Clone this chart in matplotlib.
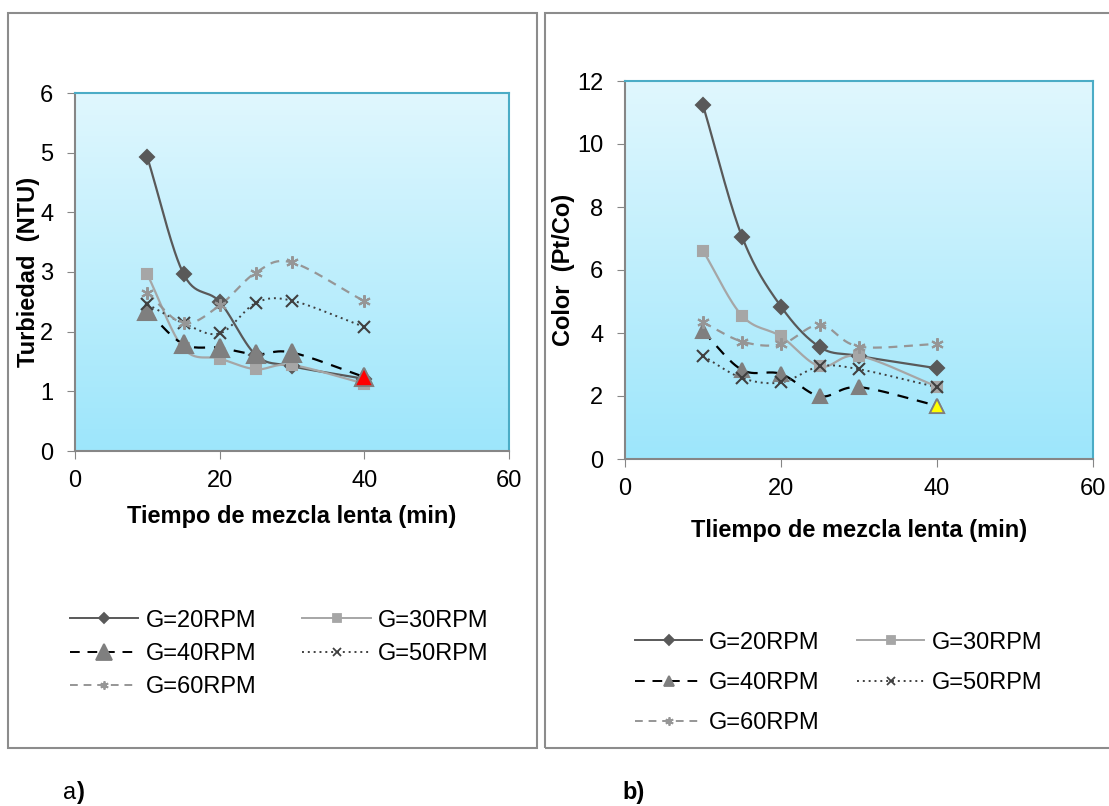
import numpy as np
import matplotlib
matplotlib.use("Agg")
import matplotlib.pyplot as plt
from matplotlib.lines import Line2D
from matplotlib.patches import Rectangle

plt.rcParams["font.family"] = ["Liberation Sans", "DejaVu Sans"]

# Data
tiempo = [10, 15, 20, 25, 30, 40]
series_names = ["G=20RPM", "G=30RPM", "G=40RPM", "G=50RPM", "G=60RPM"]

turbiedad_20 = [4.92, 2.97, 2.50, 1.61, 1.42, 1.21]
turbiedad_30 = [2.96, 1.72, 1.55, 1.37, 1.44, 1.13]
turbiedad_40 = [2.34, 1.79, 1.73, 1.62, 1.65, 1.24]
turbiedad_50 = [2.46, 2.14, 1.97, 2.48, 2.52, 2.08]
turbiedad_60 = [2.65, 2.14, 2.44, 2.99, 3.16, 2.51]

color_20 = [11.23, 7.06, 4.84, 3.55, 3.27, 2.88]
color_30 = [6.61, 4.55, 3.89, 2.94, 3.27, 2.30]
color_40 = [4.05, 2.83, 2.70, 1.99, 2.28, 1.69]
color_50 = [3.27, 2.57, 2.43, 2.94, 2.85, 2.28]
color_60 = [4.34, 3.73, 3.64, 4.26, 3.57, 3.65]

W, H = 1109, 806
FS = 17


def smooth(x, y, n=30):
    # Excel-like smoothed line (Bezier through the points)
    x = np.asarray(x, float)
    y = np.asarray(y, float)
    px = np.concatenate([[2 * x[0] - x[1]], x, [2 * x[-1] - x[-2]]])
    py = np.concatenate([[2 * y[0] - y[1]], y, [2 * y[-1] - y[-2]]])
    xs, ys = [], []
    t = np.linspace(0, 1, n)
    for i in range(1, len(px) - 2):
        p0, p1, p2, p3 = (np.array([px[j], py[j]]) for j in range(i - 1, i + 3))
        c1 = p1 + (p2 - p0) / 6
        c2 = p2 - (p3 - p1) / 6
        pts = ((1 - t) ** 3)[:, None] * p1 + (3 * (1 - t) ** 2 * t)[:, None] * c1 \
            + (3 * (1 - t) * t ** 2)[:, None] * c2 + (t ** 3)[:, None] * p2
        xs.extend(pts[:, 0])
        ys.extend(pts[:, 1])
    return xs, ys


styles = [
    dict(color="#595959", ls="-", lw=1.6, marker="D", mfc="#595959", mec="#595959"),
    dict(color="#A6A6A6", ls="-", lw=1.6, marker="s", mfc="#A6A6A6", mec="#A6A6A6"),
    dict(color="#000000", ls=(0, (5, 4)), lw=1.6, marker="^", mfc="#7F7F7F", mec="#7F7F7F"),
    dict(color="#404040", ls=(0, (1, 2)), lw=1.4, marker="x", mfc="#404040", mec="#404040"),
    dict(color="#969696", ls=(0, (4, 3)), lw=1.6, marker=(6, 2, 0), mfc="#969696", mec="#969696"),
]


def make_panel(ax, data, ymax, ylabel, xlabel, tri_size, last_color, leg_tri,
               ylab_x, xlab_y):
    grad = np.linspace(0, 1, 256)[:, None]
    cmap = matplotlib.colors.LinearSegmentedColormap.from_list("bg", ["#E0F7FE", "#9DE6FB"])
    ax.imshow(grad, aspect="auto", cmap=cmap, extent=[0, 1, 0, 1],
              transform=ax.transAxes, zorder=0)
    msizes = [7, 7, tri_size, 8, 9]
    for vals, st, ms in zip(data, styles, msizes):
        sx, sy = smooth(tiempo, vals)
        ax.plot(sx, sy, color=st["color"], ls=st["ls"], lw=st["lw"], zorder=2)
        ax.plot(tiempo, vals, ls="none", marker=st["marker"], ms=ms,
                mfc=st["mfc"], mec=st["mec"], mew=1.5, zorder=3)
    # highlighted last point of G=40
    ax.plot(tiempo[-1], data[2][-1], ls="none", marker="^", ms=tri_size,
            mfc=last_color, mec="#7F7F7F", mew=1.2, zorder=4)

    ax.set_xlim(0, 60)
    ax.set_ylim(0, ymax)
    ax.set_xticks([0, 20, 40, 60])
    ax.set_yticks(np.arange(0, ymax + 0.1, 2 if ymax > 6 else 1))
    ax.tick_params(labelsize=FS, length=5.5, color="#868686")
    ax.tick_params(axis="x", pad=8)
    ax.tick_params(axis="y", pad=10)
    for s in ["left", "bottom"]:
        ax.spines[s].set_color("#868686")
        ax.spines[s].set_linewidth(1.5)
    for s in ["top", "right"]:
        ax.spines[s].set_color("#4BACC6")
        ax.spines[s].set_linewidth(1.5)
    ax.set_ylabel(ylabel, fontsize=FS, fontweight="bold")
    ax.set_xlabel(xlabel, fontsize=FS, fontweight="bold")
    ax.yaxis.set_label_coords(ylab_x, 0.5)
    ax.xaxis.set_label_coords(0.5, xlab_y)

    handles = []
    leg_ms = [5, 6, leg_tri, 6, 6]
    for st, ms in zip(styles, leg_ms):
        handles.append(Line2D([], [], color=st["color"], ls=st["ls"], lw=1.4,
                              marker=st["marker"], ms=ms, mfc=st["mfc"],
                              mec=st["mec"], mew=1.3))
    order = [0, 2, 4, 1, 3]
    return [handles[i] for i in order], [series_names[i] for i in order]


fig = plt.figure(figsize=(W / 100, H / 100), dpi=100)

# panel frames
fig.patches.append(Rectangle((8 / W, 1 - 748 / H), 529 / W, 735 / H,
                             transform=fig.transFigure, fill=False,
                             edgecolor="#8C8C8C", lw=1.5))
fig.patches.append(Rectangle((545 / W, 1 - 748 / H), 600 / W, 735 / H,
                             transform=fig.transFigure, fill=False,
                             edgecolor="#8C8C8C", lw=1.5))

ax1 = fig.add_axes([75 / W, 1 - 451 / H, 434 / W, 358 / H])
h1, l1 = make_panel(ax1, [turbiedad_20, turbiedad_30, turbiedad_40, turbiedad_50, turbiedad_60],
                    6, "Turbiedad  (NTU)", "Tiempo de mezcla lenta (min)", 13, "#FF0000", 12,
                    -0.081, -0.150)

ax2 = fig.add_axes([625 / W, 1 - 459 / H, 468 / W, 378 / H])
h2, l2 = make_panel(ax2, [color_20, color_30, color_40, color_50, color_60],
                    12, "Color  (Pt/Co)", "Tliempo de mezcla lenta (min)", 10, "#FFFF00", 7,
                    -0.107, -0.160)

fig.legend(h1, l1, ncol=2, loc="center left", bbox_to_anchor=(70 / W, 1 - 654 / H),
           frameon=False, fontsize=FS, handlelength=2.9, handletextpad=0.3,
           columnspacing=1.95, labelspacing=0.48, borderpad=0, borderaxespad=0)
fig.legend(h2, l2, ncol=2, loc="center left", bbox_to_anchor=(635 / W, 1 - 683 / H),
           frameon=False, fontsize=FS, handlelength=2.85, handletextpad=0.3,
           columnspacing=1.57, labelspacing=0.78, borderpad=0, borderaxespad=0)

fig.text(63 / W, 1 - 793 / H, "a", fontsize=FS, va="center")
fig.text(77 / W, 1 - 793 / H, ")", fontsize=FS, fontweight="bold", va="center")
fig.text(622 / W, 1 - 793 / H, "b)", fontsize=FS, fontweight="bold", va="center")

fig.savefig("out.png", dpi=100)
